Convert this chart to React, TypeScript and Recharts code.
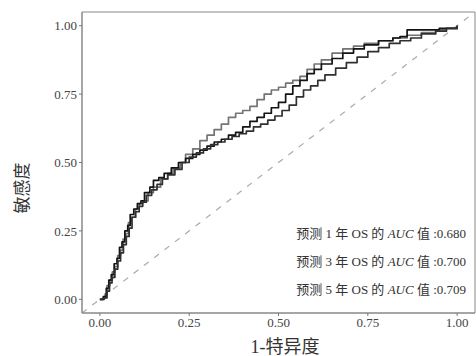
import React from 'react';
import {
    LineChart,
    Line,
    XAxis,
    YAxis,
    ReferenceLine,
    ReferenceArea
} from 'recharts';

// 1-year OS ROC (gray)
const os1Fpr = [0, 0.008, 0.015, 0.02, 0.028, 0.035, 0.042, 0.05, 0.058, 0.065, 0.072, 0.08, 0.088, 0.1, 0.11, 0.12, 0.135, 0.15, 0.17, 0.19, 0.205, 0.225, 0.24, 0.26, 0.28, 0.3, 0.32, 0.34, 0.36, 0.38, 0.4, 0.42, 0.44, 0.46, 0.48, 0.5, 0.52, 0.54, 0.56, 0.58, 0.6, 0.62, 0.65, 0.68, 0.71, 0.74, 0.78, 0.82, 0.86, 0.9, 0.94, 0.97, 1];
const os1Tpr = [0, 0.004, 0.02, 0.05, 0.07, 0.1, 0.12, 0.16, 0.18, 0.22, 0.24, 0.28, 0.3, 0.33, 0.35, 0.36, 0.39, 0.41, 0.44, 0.46, 0.48, 0.5, 0.53, 0.55, 0.58, 0.6, 0.62, 0.64, 0.665, 0.68, 0.69, 0.705, 0.73, 0.75, 0.765, 0.775, 0.79, 0.8, 0.815, 0.84, 0.86, 0.875, 0.9, 0.915, 0.925, 0.935, 0.945, 0.955, 0.965, 0.975, 0.985, 0.99, 1];

// 3-year OS ROC (black)
const os3Fpr = [0, 0.01, 0.018, 0.025, 0.032, 0.04, 0.048, 0.055, 0.062, 0.07, 0.078, 0.085, 0.095, 0.105, 0.115, 0.125, 0.14, 0.15, 0.165, 0.18, 0.2, 0.22, 0.24, 0.26, 0.28, 0.3, 0.32, 0.34, 0.36, 0.38, 0.4, 0.42, 0.44, 0.46, 0.48, 0.5, 0.52, 0.54, 0.56, 0.58, 0.6, 0.62, 0.65, 0.68, 0.71, 0.74, 0.78, 0.82, 0.84, 0.86, 0.9, 0.95, 1];
const os3Tpr = [0, 0.01, 0.04, 0.07, 0.09, 0.13, 0.15, 0.19, 0.21, 0.25, 0.27, 0.31, 0.33, 0.35, 0.36, 0.39, 0.41, 0.435, 0.445, 0.46, 0.48, 0.5, 0.515, 0.53, 0.545, 0.56, 0.575, 0.585, 0.6, 0.61, 0.63, 0.65, 0.665, 0.68, 0.7, 0.72, 0.75, 0.78, 0.8, 0.825, 0.84, 0.86, 0.88, 0.9, 0.915, 0.93, 0.945, 0.955, 0.96, 0.985, 0.985, 0.99, 1];

// 5-year OS ROC (dark)
const os5Fpr = [0, 0.012, 0.02, 0.027, 0.034, 0.042, 0.05, 0.058, 0.066, 0.074, 0.082, 0.09, 0.1, 0.11, 0.12, 0.13, 0.145, 0.16, 0.175, 0.19, 0.21, 0.23, 0.25, 0.27, 0.29, 0.31, 0.33, 0.35, 0.37, 0.39, 0.41, 0.43, 0.45, 0.47, 0.49, 0.51, 0.53, 0.55, 0.57, 0.59, 0.61, 0.63, 0.66, 0.69, 0.72, 0.75, 0.78, 0.81, 0.84, 0.87, 0.9, 0.94, 0.97, 1];
const os5Tpr = [0, 0.005, 0.03, 0.06, 0.08, 0.11, 0.14, 0.17, 0.2, 0.23, 0.26, 0.3, 0.32, 0.34, 0.355, 0.38, 0.4, 0.42, 0.44, 0.455, 0.475, 0.5, 0.52, 0.535, 0.55, 0.565, 0.575, 0.585, 0.595, 0.605, 0.615, 0.63, 0.64, 0.655, 0.67, 0.69, 0.71, 0.74, 0.765, 0.78, 0.8, 0.82, 0.845, 0.865, 0.885, 0.905, 0.92, 0.935, 0.945, 0.955, 0.97, 0.98, 0.99, 1];

const axisTicks = [0, 0.25, 0.5, 0.75, 1];
const aucLabels = ['1', '3', '5'];
const aucValues = ['0.680', '0.700', '0.709'];

const zip = (fpr: number[], tpr: number[]) => fpr.map((x, i) => ({ x, y: tpr[i] }));

const serif = '"Liberation Serif", "Noto Sans CJK SC", serif';

export default function App() {
    const series = [
        { key: 'os1', data: zip(os1Fpr, os1Tpr), color: '#747474' },
        { key: 'os3', data: zip(os3Fpr, os3Tpr), color: '#141414' },
        { key: 'os5', data: zip(os5Fpr, os5Tpr), color: '#303030' }
    ];

    return (
        <div style={{ position: 'absolute', left: 0, top: 0, width: 476, height: 356, background: '#fff' }}>
            <LineChart width={476} height={356} margin={{ top: 12, right: 1, left: 0, bottom: 3 }}>
                <XAxis
                    type="number"
                    dataKey="x"
                    domain={[-0.05, 1.05]}
                    ticks={axisTicks}
                    allowDataOverflow
                    height={40}
                    tickFormatter={(v) => v.toFixed(2)}
                    tick={{ fontSize: 13, fill: '#444', fontFamily: serif }}
                    tickLine={{ stroke: '#777' }}
                    tickSize={3}
                    axisLine={{ stroke: '#888' }}
                />
                <YAxis
                    type="number"
                    dataKey="y"
                    domain={[-0.05, 1.05]}
                    ticks={axisTicks}
                    allowDataOverflow
                    width={82}
                    tickFormatter={(v) => v.toFixed(2)}
                    tick={{ fontSize: 13, fill: '#444', fontFamily: serif }}
                    tickLine={{ stroke: '#777' }}
                    tickSize={3}
                    axisLine={{ stroke: '#888' }}
                />
                <ReferenceArea x1={-0.05} x2={1.05} y1={-0.05} y2={1.05} fill="none" stroke="#888" strokeWidth={1} />
                <ReferenceLine
                    segment={[{ x: -0.05, y: -0.05 }, { x: 1.05, y: 1.05 }]}
                    stroke="#aaa"
                    strokeWidth={1.2}
                    strokeDasharray="6 7"
                />
                {series.map((s) => (
                    <Line
                        key={s.key}
                        data={s.data}
                        dataKey="y"
                        type="stepAfter"
                        stroke={s.color}
                        strokeWidth={1.7}
                        strokeLinejoin="round"
                        dot={false}
                        isAnimationActive={false}
                    />
                ))}
            </LineChart>
            <div
                style={{
                    position: 'absolute',
                    left: 20,
                    top: 188,
                    transform: 'translate(-50%, -50%) rotate(-90deg)',
                    fontFamily: serif,
                    fontSize: 17,
                    color: '#333',
                    whiteSpace: 'nowrap'
                }}
            >
                敏感度
            </div>
            <div
                style={{
                    position: 'absolute',
                    left: 285,
                    top: 345,
                    transform: 'translate(-50%, -50%)',
                    fontFamily: serif,
                    fontSize: 18,
                    color: '#333',
                    whiteSpace: 'nowrap'
                }}
            >
                1-特异度
            </div>
            {aucLabels.map((yr, i) => (
                <div
                    key={yr}
                    style={{
                        position: 'absolute',
                        right: 10,
                        top: 232 + i * 28,
                        transform: 'translateY(-50%)',
                        fontFamily: serif,
                        fontSize: 13,
                        color: '#333',
                        whiteSpace: 'nowrap'
                    }}
                >
                    预测 {yr} 年 OS 的 <i>AUC</i> 值 :{aucValues[i]}
                </div>
            ))}
        </div>
    );
}
